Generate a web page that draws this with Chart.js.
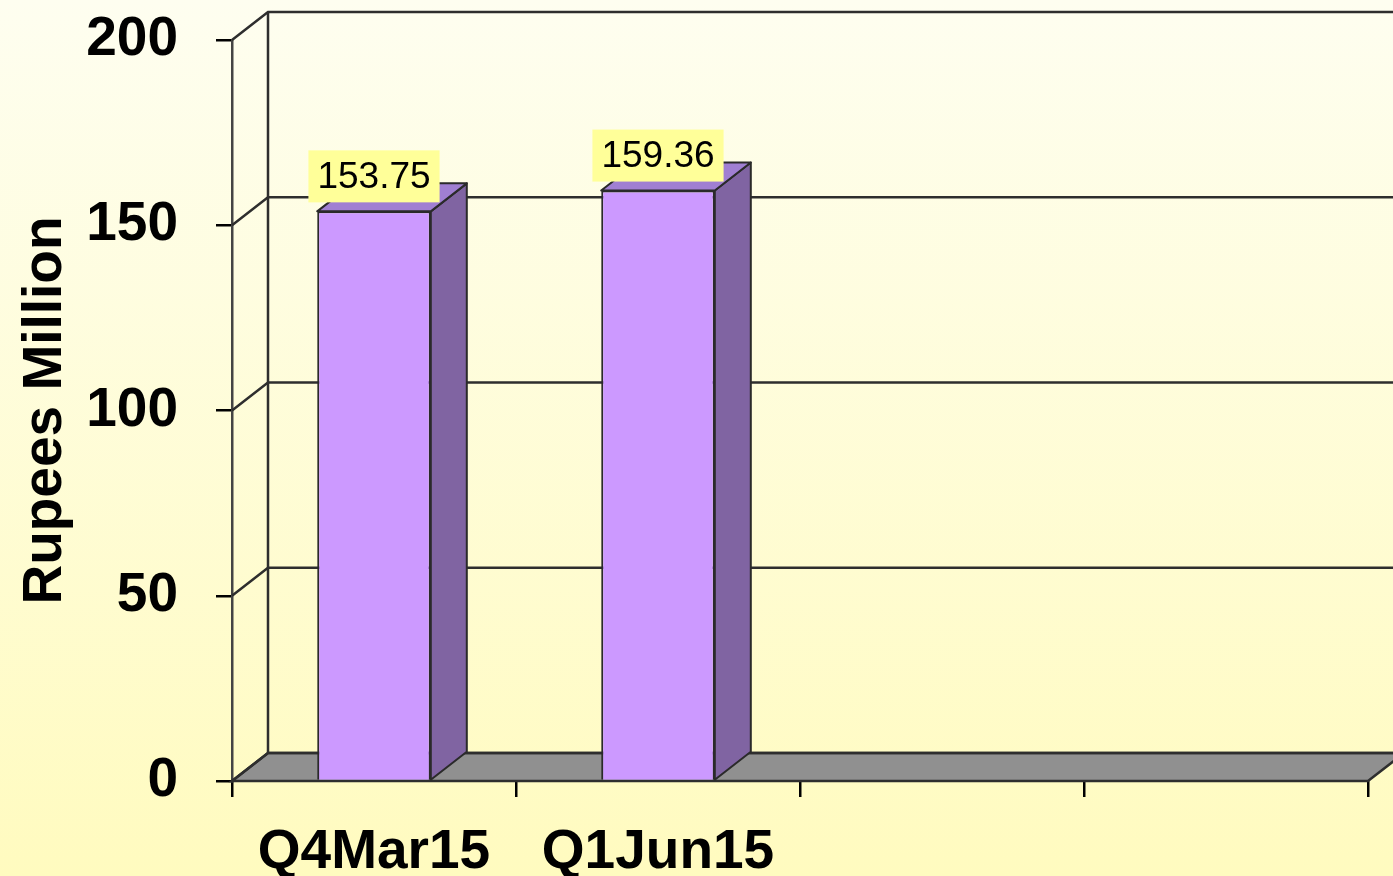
<!DOCTYPE html>
<html>
<head>
<meta charset="utf-8">
<script src="https://cdn.jsdelivr.net/npm/chart.js@4"></script>
<style>
html,body{margin:0;padding:0;overflow:hidden;}
#wrap{width:1393px;height:876px;}
</style>
</head>
<body>
<div id="wrap"><canvas id="qChart"></canvas></div>
<script>
const categories = ["Q4Mar15", "Q1Jun15", "", ""];
const values = [153.75, 159.36, null, null];
const yTicks = [0, 50, 100, 150, 200];
const yTitle = "Rupees Million";

// fake 3d depth
const dx = 36, dy = -28;
const lineCol = '#2e2e2e';

const threeD = {
  id: 'threeD',
  beforeDraw(chart) {
    const {ctx, width, height} = chart;
    const g = ctx.createLinearGradient(0, 0, 0, height);
    g.addColorStop(0, '#FEFEF0');
    g.addColorStop(1, '#FFFBBF');
    ctx.save();
    ctx.fillStyle = g;
    ctx.fillRect(0, 0, width, height);
    ctx.restore();
  },
  beforeDatasetsDraw(chart) {
    const {ctx, chartArea: a, scales: {y}} = chart;
    const y0 = y.getPixelForValue(0);
    const yTop = y.getPixelForValue(yTicks[yTicks.length - 1]);
    ctx.save();
    ctx.strokeStyle = lineCol;
    ctx.lineWidth = 2.5;
    // floor
    ctx.beginPath();
    ctx.moveTo(a.left, y0);
    ctx.lineTo(a.right, y0);
    ctx.lineTo(a.right + dx, y0 + dy);
    ctx.lineTo(a.left + dx, y0 + dy);
    ctx.closePath();
    ctx.fillStyle = '#909090';
    ctx.fill();
    ctx.stroke();
    // side wall diagonals + back wall grid
    yTicks.forEach(v => {
      const py = y.getPixelForValue(v);
      ctx.beginPath();
      ctx.moveTo(a.left, py);
      ctx.lineTo(a.left + dx, py + dy);
      ctx.lineTo(chart.width + 5, py + dy);
      ctx.stroke();
    });
    ctx.beginPath();
    ctx.moveTo(a.left + dx, yTop + dy);
    ctx.lineTo(a.left + dx, y0 + dy);
    ctx.stroke();
    ctx.restore();
  },
  afterDatasetsDraw(chart) {
    const {ctx} = chart;
    const meta = chart.getDatasetMeta(0);
    ctx.save();
    ctx.strokeStyle = '#2a2a2a';
    ctx.lineWidth = 2;
    ctx.lineJoin = 'round';
    meta.data.forEach((bar, i) => {
      if (values[i] == null) return;
      const {x, y, base, width} = bar.getProps(['x', 'y', 'base', 'width'], true);
      const l = x - width / 2, r = x + width / 2;
      // side
      ctx.beginPath();
      ctx.moveTo(r, base);
      ctx.lineTo(r + dx, base + dy);
      ctx.lineTo(r + dx, y + dy);
      ctx.lineTo(r, y);
      ctx.closePath();
      ctx.fillStyle = '#8064A2';
      ctx.fill();
      ctx.stroke();
      // top
      ctx.beginPath();
      ctx.moveTo(l, y);
      ctx.lineTo(l + dx, y + dy);
      ctx.lineTo(r + dx, y + dy);
      ctx.lineTo(r, y);
      ctx.closePath();
      ctx.fillStyle = '#A07FD2';
      ctx.fill();
      ctx.stroke();
    });
    // value labels
    ctx.font = '37px "Liberation Sans", Arial, sans-serif';
    ctx.textAlign = 'center';
    ctx.textBaseline = 'middle';
    meta.data.forEach((bar, i) => {
      if (values[i] == null) return;
      const {x, y} = bar.getProps(['x', 'y'], true);
      const txt = values[i].toFixed(2);
      const w = ctx.measureText(txt).width + 18;
      const h = 52;
      const bottom = y - 9;
      ctx.fillStyle = '#FFFF99';
      ctx.fillRect(x - w / 2, bottom - h, w, h);
      ctx.fillStyle = '#000';
      ctx.fillText(txt, x, bottom - h / 2 + 1);
    });
    ctx.restore();
  }
};

new Chart('qChart', {
  type: 'bar',
  data: {
    labels: categories,
    datasets: [{
      data: values,
      backgroundColor: '#CC99FF',
      borderColor: '#2a2a2a',
      borderWidth: 2,
      barPercentage: 0.4,
      categoryPercentage: 1
    }]
  },
  options: {
    responsive: true,
    maintainAspectRatio: false,
    animation: false,
    events: [],
    layout: {padding: {top: 40, right: 25, left: 0, bottom: 0}},
    plugins: {legend: {display: false}, tooltip: {enabled: false}},
    scales: {
      x: {
        afterFit: s => { s.height = 95; },
        grid: {offset: true, drawOnChartArea: false, drawTicks: true, tickLength: 16, color: '#000', lineWidth: 2.5},
        border: {display: false},
        ticks: {color: '#000', padding: 23, maxRotation: 0, autoSkip: false,
          font: {family: '"Liberation Sans", Arial, sans-serif', size: 55, weight: 'bold'}}
      },
      y: {
        min: 0,
        max: 200,
        afterFit: s => { s.width = 232; s.paddingTop = 0; s.paddingBottom = 0; },
        afterBuildTicks: s => { s.ticks = yTicks.map(v => ({value: v})); },
        grid: {drawOnChartArea: false, drawTicks: true, tickLength: 16, color: '#000', lineWidth: 2.5},
        border: {color: '#444', width: 2.5},
        ticks: {color: '#000', padding: 38,
          font: {family: '"Liberation Sans", Arial, sans-serif', size: 55, weight: 'bold'}},
        title: {display: true, text: yTitle, color: '#000', padding: {top: 13, bottom: 0},
          font: {family: '"Liberation Sans", Arial, sans-serif', size: 55, weight: 'bold'}}
      }
    }
  },
  plugins: [threeD]
});
</script>
</body>
</html>
